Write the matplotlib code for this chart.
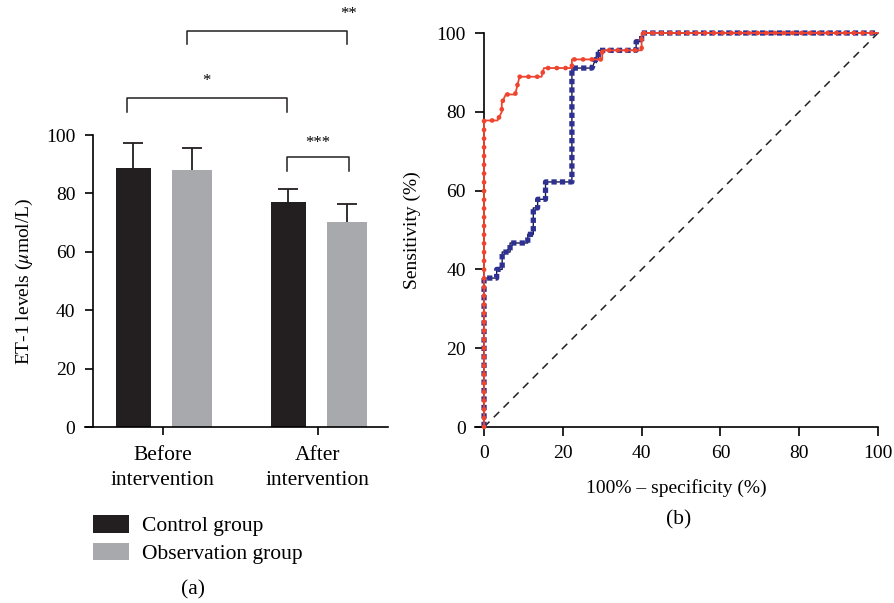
import matplotlib
matplotlib.use("Agg")
import matplotlib.pyplot as plt
from matplotlib.patches import Patch

plt.rcParams['font.family'] = ['Liberation Serif', 'DejaVu Serif']
plt.rcParams['mathtext.fontset'] = 'stix'

# ---- data: bar chart (a) ----
groups = ["Before\nintervention", "After\nintervention"]
control_mean = [88.6, 77.0]
control_err = [8.8, 4.5]
observation_mean = [88.0, 70.2]
observation_err = [7.7, 6.3]
series_names = ["Control group", "Observation group"]
ticks_bar = [0, 20, 40, 60, 80, 100]

# ---- data: ROC curves (b) ----
red_fpr = [0, 0, 3.4, 4.5, 4.5, 5.5, 7.9, 9.0, 14.6, 15.2, 22.3, 22.3, 30.0, 30.0, 40.0, 40.0, 80.0, 100]
red_tpr = [0, 77.8, 77.8, 80.0, 82.2, 84.4, 84.4, 88.9, 88.9, 91.1, 91.1, 93.3, 93.3, 95.6, 95.6, 100, 100, 100]
blue_fpr = [0, 0, 3.2, 3.2, 4.6, 4.6, 6.6, 6.6, 11.1, 11.1, 12.5, 12.5, 13.6, 13.6, 15.6, 15.6, 22.3, 22.3,
            27.4, 28.3, 29.0, 29.0, 38.6, 38.6, 40.0, 40.0, 100]
blue_tpr = [0, 37.8, 37.8, 40.0, 40.0, 44.4, 44.4, 46.7, 46.7, 48.9, 48.9, 55.6, 55.6, 57.8, 57.8, 62.2, 62.2, 91.1,
            91.1, 93.3, 93.3, 95.6, 95.6, 97.8, 97.8, 100, 100]
ticks_roc = [0, 20, 40, 60, 80, 100]

CTRL = '#231F20'
OBS = '#A7A9AC'
RED = '#EF4530'
BLUE = '#2E3192'
FS = 14      # tick numbers / ROC labels
FS2 = 15.5   # category labels / legend

fig = plt.figure(figsize=(8.94, 6.03), dpi=100)

# ================= (a) =================
ax1 = fig.add_axes([85/894, 1 - 427/603, (388-85)/894, (427-135)/603])
x = [0, 1]
off = 0.19
xc = [i - off for i in x]
xo = [i + off for i in x]
ax1.bar(xc, control_mean, width=0.225, color=CTRL, zorder=2)
ax1.bar(xo, observation_mean, width=0.257, color=OBS, zorder=2)
cap = 0.064
for xs, m, e in [(xc, control_mean, control_err), (xo, observation_mean, observation_err)]:
    tops = [a + b for a, b in zip(m, e)]
    ax1.vlines(xs, m, tops, color=CTRL, lw=1.3, zorder=3)
    ax1.hlines(tops, [v - cap for v in xs], [v + cap for v in xs], color=CTRL, lw=1.3, zorder=3)
ax1.set_xlim(-0.5, 1.453)
ax1.set_ylim(0, 100)
ax1.spines['top'].set_visible(False)
ax1.spines['right'].set_visible(False)
ax1.spines['left'].set_position(('data', -0.446))
for s in ['left', 'bottom']:
    ax1.spines[s].set_linewidth(1.2)
ax1.set_xticks(x)
ax1.set_xticklabels(groups, fontsize=FS2, linespacing=1.45)
ax1.set_yticks(ticks_bar)
ax1.tick_params(axis='y', direction='out', length=6, width=1.2, labelsize=FS, pad=7)
ax1.tick_params(axis='x', direction='out', length=5.5, width=1.2, labelsize=FS2, pad=8)
ax1.set_ylabel(r"ET-1 levels ($\mu$mol/L)", fontsize=FS, labelpad=8)

def bracket(ax, x0, x1, ytop, ybot, label, tx, ty):
    ax.plot([x0, x0, x1, x1], [ybot, ytop, ytop, ybot], color=CTRL, lw=1.1, clip_on=False)
    ax.text(tx, ty, label, ha='center', va='center', fontsize=12, clip_on=False)

bracket(ax1, -0.227, 0.802, 112.6, 108.0, "*", 0.28, 118.5)
bracket(ax1, 0.159, 1.189, 135.7, 131.1, "**", 1.2, 141.5)
bracket(ax1, 0.802, 1.2, 92.6, 87.8, "***", 1.0, 97.2)

fig.legend(handles=[Patch(facecolor=CTRL), Patch(facecolor=OBS)], labels=series_names,
           loc='upper left', bbox_to_anchor=(93/894, 1 - 515/603), frameon=False,
           fontsize=FS2, handlelength=1.68, handleheight=0.88, handletextpad=0.6,
           labelspacing=0.3, borderpad=0, borderaxespad=0)
fig.text(193/894, 1 - 590/603, "(a)", ha='center', va='center', fontsize=FS2)

# ================= (b) =================
ax2 = fig.add_axes([475/894, 1 - 427/603, (878-475)/894, 394/603])
ax2.plot([0, 100], [0, 100], color=CTRL, lw=1.1, ls=(0, (5, 4)), zorder=1)
# blue ROC: thin connecting line + square marks
ax2.plot(blue_fpr, blue_tpr, color='#1a1a40', lw=1.0, zorder=2, clip_on=False)
ax2.plot(blue_fpr, blue_tpr, color=BLUE, lw=3.8, ls=(0, (1.0, 0.6)), dash_capstyle='butt',
         zorder=3, clip_on=False)
# red ROC: line + dot marks
ax2.plot(red_fpr, red_tpr, color=RED, lw=1.3, zorder=4, clip_on=False)
ax2.plot(red_fpr, red_tpr, color=RED, lw=3.4, ls=(0, (0.05, 1.8)), dash_capstyle='round',
         zorder=5, clip_on=False)
ax2.set_xlim(-2.3, 100)
ax2.set_ylim(0, 100)
ax2.set_xticks(ticks_roc)
ax2.set_yticks(ticks_roc)
ax2.spines['top'].set_visible(False)
ax2.spines['right'].set_visible(False)
ax2.spines['left'].set_position(('data', 0))
for s in ['left', 'bottom']:
    ax2.spines[s].set_linewidth(1.2)
ax2.tick_params(axis='both', direction='out', length=6.5, width=1.2, labelsize=FS, pad=6.5)
ax2.set_xlabel("100% – specificity (%)", fontsize=FS, labelpad=12.5)
ax2.set_ylabel("Sensitivity (%)", fontsize=FS, labelpad=11)
fig.text(679/894, 1 - 520/603, "(b)", ha='center', va='center', fontsize=FS2)

fig.savefig("out.png", dpi=100)
